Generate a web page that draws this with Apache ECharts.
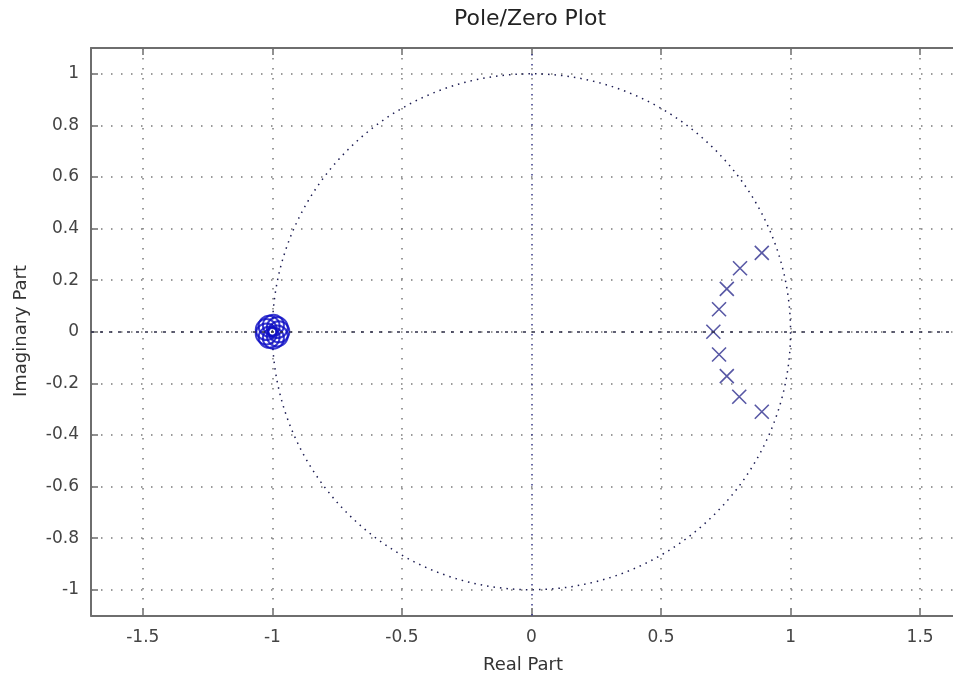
<!DOCTYPE html>
<html>
<head>
<meta charset="utf-8">
<script src="https://cdn.jsdelivr.net/npm/echarts@6/dist/echarts.min.js"></script>
<style>
  html, body { margin: 0; padding: 0; background: #fff; }
  #chart { width: 953px; height: 680px; }
</style>
</head>
<body>
<div id="chart"></div>
<script>
// Tick positions
const xTicks = [-1.5, -1, -0.5, 0, 0.5, 1, 1.5];
const yTicks = [-1, -0.8, -0.6, -0.4, -0.2, 0, 0.2, 0.4, 0.6, 0.8, 1];

// Poles (real / imaginary parts)
const poleRe = [0.889, 0.805, 0.754, 0.724, 0.702, 0.724, 0.754, 0.802, 0.889];
const poleIm = [0.306, 0.246, 0.166, 0.087, 0.0, -0.088, -0.172, -0.252, -0.310];

// Zeros: a repeated root at -1, slightly scattered numerically
const zeroRe = [-0.975, -0.981, -0.996, -1.0125, -1.0235, -1.0235, -1.0125, -0.996, -0.981];
const zeroIm = [0.0, 0.016, 0.025, 0.0217, 0.0086, -0.0086, -0.0217, -0.025, -0.016];

const poles = poleRe.map((re, i) => [re, poleIm[i]]);
const zerosData = zeroRe.map((re, i) => [re, zeroIm[i]]);

const FONT = '"DejaVu Sans", Verdana, sans-serif';
const GRID_DOT = { color: '#7a7a7a', width: 1.5, type: [1.5, 8.5] };
const AXIS_LINE = { show: true, onZero: false, lineStyle: { color: '#6e6e6e', width: 2 } };
const TICK = { show: true, inside: true, length: 7, lineStyle: { color: '#6e6e6e', width: 1.5 } };

const chart = echarts.init(document.getElementById('chart'), null, { renderer: 'canvas' });

chart.setOption({
  animation: false,
  backgroundColor: '#ffffff',
  title: {
    text: 'Pole/Zero Plot',
    left: 525, top: 3, textAlign: 'center',
    textStyle: { fontFamily: FONT, fontSize: 22, fontWeight: 'normal', color: '#222' }
  },
  grid: { left: 91, right: 0, top: 48, bottom: 64.5, containLabel: false },
  xAxis: [{
    type: 'value', min: -1.7, max: 1.627, position: 'bottom',
    axisLine: AXIS_LINE,
    axisTick: Object.assign({ customValues: xTicks }, TICK),
    axisLabel: { customValues: xTicks, fontFamily: FONT, fontSize: 17, color: '#444', margin: 14 },
    splitLine: { show: true, lineStyle: GRID_DOT }
  }, {
    type: 'value', min: -1.7, max: 1.627, position: 'top',
    axisLine: AXIS_LINE,
    axisTick: Object.assign({ customValues: xTicks }, TICK),
    axisLabel: { show: false },
    splitLine: { show: false }
  }],
  yAxis: [{
    type: 'value', min: -1.1, max: 1.1, position: 'left',
    axisLine: AXIS_LINE,
    axisTick: Object.assign({ customValues: yTicks }, TICK),
    axisLabel: { customValues: yTicks, fontFamily: FONT, fontSize: 17, color: '#444', margin: 12 },
    splitLine: { show: true, lineStyle: GRID_DOT }
  }],
  graphic: [{
    type: 'text', x: 523, y: 665,
    style: { text: 'Real Part', font: '18px ' + FONT, fill: '#333', align: 'center', verticalAlign: 'middle' }
  }, {
    type: 'text', x: 21, y: 331, rotation: Math.PI / 2,
    style: { text: 'Imaginary Part', font: '18px ' + FONT, fill: '#333', align: 'center', verticalAlign: 'middle' }
  }],
  series: [{
    // unit circle and the real / imaginary axes
    type: 'custom',
    data: [[0, 0]],
    silent: true,
    renderItem: function (params, api) {
      const c = api.coord([api.value(0), api.value(1)]);
      const s = api.size([1, 1]);
      return {
        type: 'ellipse',
        shape: { cx: c[0], cy: c[1], rx: s[0], ry: s[1] },
        style: { fill: 'none', stroke: '#1c1c52', lineWidth: 1.5, lineDash: [1.5, 5] }
      };
    },
    markLine: {
      silent: true, symbol: 'none', label: { show: false },
      data: [
        { yAxis: 0, lineStyle: { color: '#2e2e48', width: 1.5, type: [3, 6] } },
        { xAxis: 0, lineStyle: { color: '#36368a', width: 1.5, type: [1.5, 8.5] } }
      ]
    }
  }, {
    name: 'Zeros',
    type: 'scatter',
    data: zerosData,
    symbol: 'circle',
    symbolSize: 21,
    itemStyle: { color: 'transparent', borderColor: '#0d0dc4', borderWidth: 2 }
  }, {
    name: 'Poles',
    type: 'scatter',
    data: poles,
    symbol: 'path://M0,0L10,10M10,0L0,10',
    symbolSize: 14,
    itemStyle: { color: 'transparent', borderColor: '#2e2e8e', borderWidth: 1.6 }
  }]
});
</script>
</body>
</html>
